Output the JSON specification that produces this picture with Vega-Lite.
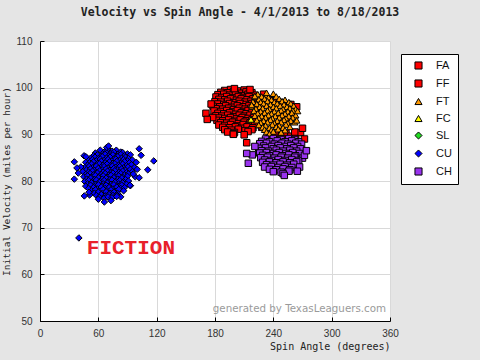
{
  "$schema": "https://vega.github.io/schema/vega-lite/v6.json",
  "width": 350,
  "height": 280,
  "autosize": {"type": "none"},
  "padding": {"left": 40, "top": 41, "right": 90, "bottom": 39},
  "background": "#e5e5e5",
  "title": {"text": "Velocity vs Spin Angle - 4/1/2013 to 8/18/2013", "font": "DejaVu Sans Mono", "fontSize": 11.5, "fontWeight": "bold", "color": "#222", "dx": 25, "offset": 18},
  "config": {
    "view": {"fill": "white", "stroke": null},
    "legend": {"orient": "none", "legendX": 361, "legendY": 13, "fillColor": "white", "strokeColor": "black", "padding": 6, "labelFont": "Liberation Sans", "labelFontSize": 11, "labelColor": "#111", "symbolSize": 50, "symbolStrokeColor": "black", "symbolStrokeWidth": 1, "rowPadding": 5, "labelOffset": 12, "symbolOffset": 6, "title": null}
  },
  "datasets": {"pitches": [
    {"p":"FA","x":236,"y":89.8},{"p":"FA","x":242,"y":90.0},{"p":"FA","x":248,"y":89.5},{"p":"FA","x":253,"y":90.2},{"p":"FA","x":258,"y":89.6},{"p":"FA","x":263,"y":89.8},{"p":"FA","x":268,"y":90.4},{"p":"FA","x":270,"y":91.3},{"p":"FA","x":245,"y":88.6},{"p":"FA","x":255,"y":88.4},{"p":"FA","x":261,"y":88.8},{"p":"FA","x":266,"y":88.2},{"p":"FA","x":239,"y":88.8},{"p":"FA","x":272,"y":89.0},{"p":"FA","x":250,"y":89.0},
    {"p":"FF","x":190,"y":99.4},{"p":"FF","x":196,"y":99.6},{"p":"FF","x":203,"y":99.3},{"p":"FF","x":210,"y":99.5},
    {"p":"FF","x":186,"y":99.0},{"p":"FF","x":193,"y":98.9},{"p":"FF","x":199,"y":99.1},{"p":"FF","x":205,"y":98.8},{"p":"FF","x":212,"y":99.1},{"p":"FF","x":218,"y":98.9},
    {"p":"FF","x":183,"y":98.5},{"p":"FF","x":189,"y":98.6},{"p":"FF","x":195,"y":98.4},{"p":"FF","x":201,"y":98.6},{"p":"FF","x":207,"y":98.3},{"p":"FF","x":214,"y":98.6},{"p":"FF","x":220,"y":98.4},
    {"p":"FF","x":181,"y":98.0},{"p":"FF","x":187,"y":97.9},{"p":"FF","x":192,"y":98.1},{"p":"FF","x":198,"y":97.8},{"p":"FF","x":204,"y":98.1},{"p":"FF","x":209,"y":97.9},{"p":"FF","x":215,"y":98.1},{"p":"FF","x":222,"y":97.9},
    {"p":"FF","x":184,"y":97.5},{"p":"FF","x":190,"y":97.4},{"p":"FF","x":196,"y":97.6},{"p":"FF","x":202,"y":97.3},{"p":"FF","x":207,"y":97.6},{"p":"FF","x":213,"y":97.4},{"p":"FF","x":219,"y":97.6},{"p":"FF","x":225,"y":97.4},
    {"p":"FF","x":180,"y":97.0},{"p":"FF","x":186,"y":96.9},{"p":"FF","x":193,"y":97.1},{"p":"FF","x":199,"y":96.8},{"p":"FF","x":205,"y":97.1},{"p":"FF","x":211,"y":96.9},{"p":"FF","x":217,"y":97.1},{"p":"FF","x":223,"y":96.9},
    {"p":"FF","x":183,"y":96.5},{"p":"FF","x":189,"y":96.4},{"p":"FF","x":195,"y":96.6},{"p":"FF","x":200,"y":96.3},{"p":"FF","x":206,"y":96.6},{"p":"FF","x":212,"y":96.4},{"p":"FF","x":218,"y":96.6},{"p":"FF","x":226,"y":96.4},
    {"p":"FF","x":178,"y":96.0},{"p":"FF","x":185,"y":95.9},{"p":"FF","x":191,"y":96.1},{"p":"FF","x":197,"y":95.8},{"p":"FF","x":203,"y":96.1},{"p":"FF","x":209,"y":95.9},{"p":"FF","x":215,"y":96.1},{"p":"FF","x":221,"y":95.9},
    {"p":"FF","x":181,"y":95.5},{"p":"FF","x":188,"y":95.4},{"p":"FF","x":194,"y":95.6},{"p":"FF","x":199,"y":95.3},{"p":"FF","x":205,"y":95.6},{"p":"FF","x":211,"y":95.4},{"p":"FF","x":217,"y":95.6},{"p":"FF","x":224,"y":95.4},
    {"p":"FF","x":179,"y":95.0},{"p":"FF","x":186,"y":94.9},{"p":"FF","x":192,"y":95.1},{"p":"FF","x":198,"y":94.8},{"p":"FF","x":203,"y":95.1},{"p":"FF","x":209,"y":94.9},{"p":"FF","x":214,"y":95.1},{"p":"FF","x":220,"y":94.9},
    {"p":"FF","x":183,"y":94.5},{"p":"FF","x":189,"y":94.4},{"p":"FF","x":195,"y":94.6},{"p":"FF","x":201,"y":94.3},{"p":"FF","x":207,"y":94.6},{"p":"FF","x":212,"y":94.4},{"p":"FF","x":218,"y":94.6},{"p":"FF","x":228,"y":94.4},
    {"p":"FF","x":181,"y":94.0},{"p":"FF","x":187,"y":93.9},{"p":"FF","x":193,"y":94.1},{"p":"FF","x":199,"y":93.8},{"p":"FF","x":205,"y":94.1},{"p":"FF","x":210,"y":93.9},{"p":"FF","x":216,"y":94.1},{"p":"FF","x":222,"y":93.9},
    {"p":"FF","x":184,"y":93.5},{"p":"FF","x":190,"y":93.4},{"p":"FF","x":196,"y":93.6},{"p":"FF","x":202,"y":93.3},{"p":"FF","x":208,"y":93.6},{"p":"FF","x":214,"y":93.4},{"p":"FF","x":220,"y":93.6},
    {"p":"FF","x":182,"y":93.0},{"p":"FF","x":188,"y":92.9},{"p":"FF","x":194,"y":93.1},{"p":"FF","x":200,"y":92.8},{"p":"FF","x":206,"y":93.1},{"p":"FF","x":212,"y":92.9},{"p":"FF","x":218,"y":93.1},{"p":"FF","x":226,"y":92.9},
    {"p":"FF","x":186,"y":92.5},{"p":"FF","x":192,"y":92.4},{"p":"FF","x":198,"y":92.6},{"p":"FF","x":204,"y":92.3},{"p":"FF","x":210,"y":92.6},{"p":"FF","x":216,"y":92.4},{"p":"FF","x":222,"y":92.6},
    {"p":"FF","x":184,"y":92.0},{"p":"FF","x":190,"y":91.9},{"p":"FF","x":196,"y":92.1},{"p":"FF","x":203,"y":91.8},{"p":"FF","x":209,"y":92.1},{"p":"FF","x":215,"y":91.9},{"p":"FF","x":221,"y":92.1},
    {"p":"FF","x":188,"y":91.5},{"p":"FF","x":195,"y":91.4},{"p":"FF","x":201,"y":91.6},{"p":"FF","x":207,"y":91.3},{"p":"FF","x":213,"y":91.6},{"p":"FF","x":219,"y":91.4},
    {"p":"FF","x":190,"y":91.0},{"p":"FF","x":197,"y":90.9},{"p":"FF","x":204,"y":91.1},{"p":"FF","x":211,"y":90.8},{"p":"FF","x":218,"y":91.0},
    {"p":"FF","x":193,"y":90.5},{"p":"FF","x":200,"y":90.4},{"p":"FF","x":214,"y":90.6},{"p":"FF","x":199,"y":90.1},{"p":"FF","x":210,"y":89.9},
    {"p":"FF","x":170.7,"y":94.5},{"p":"FF","x":177.6,"y":93.6},{"p":"FF","x":172,"y":93.2},{"p":"FF","x":198.9,"y":90.0},{"p":"FF","x":212.6,"y":88.2},{"p":"FF","x":176,"y":96.5},{"p":"FF","x":200,"y":99.8},{"p":"FF","x":216,"y":99.6},
    {"p":"FF","x":230,"y":98.6},{"p":"FF","x":235,"y":97.5},{"p":"FF","x":242,"y":97.2},{"p":"FF","x":250,"y":96.8},{"p":"FF","x":258,"y":96.4},{"p":"FF","x":264,"y":95.9},{"p":"FF","x":238,"y":95},{"p":"FF","x":246,"y":94},{"p":"FF","x":255,"y":93.5},{"p":"FF","x":232,"y":93},{"p":"FF","x":228,"y":91.5},{"p":"FF","x":244,"y":91.8},{"p":"FF","x":262,"y":90.5},
    {"p":"FT","x":224,"y":98.6},{"p":"FT","x":232,"y":98.4},{"p":"FT","x":240,"y":98.7},
    {"p":"FT","x":221,"y":98.0},{"p":"FT","x":228,"y":98.1},{"p":"FT","x":235,"y":97.9},{"p":"FT","x":243,"y":98.1},
    {"p":"FT","x":225,"y":97.5},{"p":"FT","x":231,"y":97.6},{"p":"FT","x":238,"y":97.4},{"p":"FT","x":246,"y":97.6},{"p":"FT","x":252,"y":97.4},
    {"p":"FT","x":219,"y":97.0},{"p":"FT","x":227,"y":96.9},{"p":"FT","x":234,"y":97.1},{"p":"FT","x":241,"y":96.9},{"p":"FT","x":249,"y":97.1},{"p":"FT","x":256,"y":96.9},
    {"p":"FT","x":223,"y":96.5},{"p":"FT","x":230,"y":96.6},{"p":"FT","x":237,"y":96.4},{"p":"FT","x":244,"y":96.6},{"p":"FT","x":251,"y":96.4},{"p":"FT","x":258,"y":96.6},
    {"p":"FT","x":218,"y":96.0},{"p":"FT","x":226,"y":95.9},{"p":"FT","x":233,"y":96.1},{"p":"FT","x":240,"y":95.9},{"p":"FT","x":247,"y":96.1},{"p":"FT","x":254,"y":95.9},{"p":"FT","x":261,"y":96.1},
    {"p":"FT","x":222,"y":95.5},{"p":"FT","x":229,"y":95.6},{"p":"FT","x":236,"y":95.4},{"p":"FT","x":243,"y":95.6},{"p":"FT","x":250,"y":95.4},{"p":"FT","x":257,"y":95.6},{"p":"FT","x":263,"y":95.4},
    {"p":"FT","x":220,"y":95.0},{"p":"FT","x":227,"y":94.9},{"p":"FT","x":234,"y":95.1},{"p":"FT","x":241,"y":94.9},{"p":"FT","x":248,"y":95.1},{"p":"FT","x":255,"y":94.9},{"p":"FT","x":260,"y":95.1},
    {"p":"FT","x":224,"y":94.5},{"p":"FT","x":231,"y":94.6},{"p":"FT","x":238,"y":94.4},{"p":"FT","x":245,"y":94.6},{"p":"FT","x":252,"y":94.4},{"p":"FT","x":259,"y":94.6},
    {"p":"FT","x":221,"y":94.0},{"p":"FT","x":228,"y":93.9},{"p":"FT","x":235,"y":94.1},{"p":"FT","x":242,"y":93.9},{"p":"FT","x":249,"y":94.1},{"p":"FT","x":256,"y":93.9},{"p":"FT","x":263,"y":94.1},
    {"p":"FT","x":225,"y":93.5},{"p":"FT","x":232,"y":93.6},{"p":"FT","x":239,"y":93.4},{"p":"FT","x":246,"y":93.6},{"p":"FT","x":253,"y":93.4},{"p":"FT","x":260,"y":93.6},
    {"p":"FT","x":223,"y":93.0},{"p":"FT","x":230,"y":92.9},{"p":"FT","x":237,"y":93.1},{"p":"FT","x":244,"y":92.9},{"p":"FT","x":251,"y":93.1},{"p":"FT","x":258,"y":92.9},
    {"p":"FT","x":227,"y":92.5},{"p":"FT","x":234,"y":92.6},{"p":"FT","x":241,"y":92.4},{"p":"FT","x":248,"y":92.6},{"p":"FT","x":255,"y":92.4},{"p":"FT","x":262,"y":92.6},
    {"p":"FT","x":225,"y":92.0},{"p":"FT","x":232,"y":91.9},{"p":"FT","x":239,"y":92.1},{"p":"FT","x":246,"y":91.9},{"p":"FT","x":253,"y":92.1},
    {"p":"FT","x":229,"y":91.5},{"p":"FT","x":236,"y":91.4},{"p":"FT","x":243,"y":91.6},{"p":"FT","x":250,"y":91.4},{"p":"FT","x":257,"y":91.6},
    {"p":"FT","x":231,"y":91.0},{"p":"FT","x":238,"y":90.9},{"p":"FT","x":245,"y":91.1},{"p":"FT","x":252,"y":90.9},
    {"p":"FT","x":233,"y":90.5},{"p":"FT","x":240,"y":90.6},{"p":"FT","x":248,"y":90.4},{"p":"FT","x":236,"y":90.1},
    {"p":"FT","x":217.7,"y":96.3},{"p":"FT","x":221,"y":98.2},{"p":"FT","x":233,"y":98.9},{"p":"FT","x":264,"y":93.0},{"p":"FT","x":265,"y":95.0},
    {"p":"FC","x":217,"y":93.2},
    {"p":"CU","x":62,"y":86.6},{"p":"CU","x":66.5,"y":86.3},{"p":"CU","x":70,"y":86.8},{"p":"CU","x":74,"y":86.4},{"p":"CU","x":78.5,"y":86.6},{"p":"CU","x":83,"y":86.2},
    {"p":"CU","x":57,"y":86.0},{"p":"CU","x":64.5,"y":85.8},{"p":"CU","x":68,"y":86.1},{"p":"CU","x":72.5,"y":85.9},{"p":"CU","x":76,"y":86.2},{"p":"CU","x":80,"y":85.7},{"p":"CU","x":85,"y":86.1},{"p":"CU","x":90,"y":85.8},
    {"p":"CU","x":55,"y":85.4},{"p":"CU","x":59,"y":85.6},{"p":"CU","x":63,"y":85.3},{"p":"CU","x":67,"y":85.7},{"p":"CU","x":71,"y":85.4},{"p":"CU","x":75,"y":85.6},{"p":"CU","x":79,"y":85.3},{"p":"CU","x":83,"y":85.7},{"p":"CU","x":87,"y":85.4},{"p":"CU","x":93,"y":85.6},
    {"p":"CU","x":52,"y":84.9},{"p":"CU","x":56.5,"y":85.1},{"p":"CU","x":60,"y":84.8},{"p":"CU","x":64,"y":85.2},{"p":"CU","x":68.5,"y":84.9},{"p":"CU","x":72,"y":85.1},{"p":"CU","x":76.5,"y":84.8},{"p":"CU","x":80,"y":85.2},{"p":"CU","x":84,"y":84.9},{"p":"CU","x":88,"y":85.1},{"p":"CU","x":91,"y":84.8},
    {"p":"CU","x":50,"y":84.4},{"p":"CU","x":54,"y":84.6},{"p":"CU","x":58,"y":84.3},{"p":"CU","x":62,"y":84.7},{"p":"CU","x":66,"y":84.4},{"p":"CU","x":70,"y":84.6},{"p":"CU","x":74,"y":84.3},{"p":"CU","x":78,"y":84.7},{"p":"CU","x":82,"y":84.4},{"p":"CU","x":86,"y":84.6},{"p":"CU","x":90,"y":84.3},{"p":"CU","x":95,"y":84.5},
    {"p":"CU","x":47,"y":84.0},{"p":"CU","x":51,"y":83.9},{"p":"CU","x":55,"y":84.1},{"p":"CU","x":59.5,"y":83.8},{"p":"CU","x":63,"y":84.2},{"p":"CU","x":67,"y":83.9},{"p":"CU","x":71.5,"y":84.1},{"p":"CU","x":75,"y":83.8},{"p":"CU","x":79,"y":84.2},{"p":"CU","x":83.5,"y":83.9},{"p":"CU","x":87,"y":84.1},{"p":"CU","x":92,"y":83.9},
    {"p":"CU","x":49,"y":83.4},{"p":"CU","x":53,"y":83.6},{"p":"CU","x":57,"y":83.3},{"p":"CU","x":61,"y":83.7},{"p":"CU","x":65,"y":83.4},{"p":"CU","x":69,"y":83.6},{"p":"CU","x":73,"y":83.3},{"p":"CU","x":77,"y":83.7},{"p":"CU","x":81,"y":83.4},{"p":"CU","x":85,"y":83.6},{"p":"CU","x":89,"y":83.3},{"p":"CU","x":94,"y":83.5},
    {"p":"CU","x":46,"y":82.9},{"p":"CU","x":50.5,"y":83.1},{"p":"CU","x":54,"y":82.8},{"p":"CU","x":58,"y":83.2},{"p":"CU","x":62.5,"y":82.9},{"p":"CU","x":66,"y":83.1},{"p":"CU","x":70,"y":82.8},{"p":"CU","x":74.5,"y":83.2},{"p":"CU","x":78,"y":82.9},{"p":"CU","x":82,"y":83.1},{"p":"CU","x":86,"y":82.8},{"p":"CU","x":90.5,"y":83.0},{"p":"CU","x":97,"y":82.9},
    {"p":"CU","x":48,"y":82.4},{"p":"CU","x":52,"y":82.6},{"p":"CU","x":56,"y":82.3},{"p":"CU","x":60,"y":82.7},{"p":"CU","x":64,"y":82.4},{"p":"CU","x":68,"y":82.6},{"p":"CU","x":72,"y":82.3},{"p":"CU","x":76,"y":82.7},{"p":"CU","x":80,"y":82.4},{"p":"CU","x":84,"y":82.6},{"p":"CU","x":88,"y":82.3},{"p":"CU","x":93,"y":82.5},
    {"p":"CU","x":44,"y":82.0},{"p":"CU","x":50,"y":81.9},{"p":"CU","x":54,"y":82.1},{"p":"CU","x":58,"y":81.8},{"p":"CU","x":61.5,"y":82.2},{"p":"CU","x":65,"y":81.9},{"p":"CU","x":69.5,"y":82.1},{"p":"CU","x":73,"y":81.8},{"p":"CU","x":77,"y":82.2},{"p":"CU","x":81.5,"y":81.9},{"p":"CU","x":85,"y":82.1},{"p":"CU","x":89,"y":81.8},{"p":"CU","x":95,"y":82.0},
    {"p":"CU","x":47,"y":81.4},{"p":"CU","x":51.5,"y":81.6},{"p":"CU","x":55,"y":81.3},{"p":"CU","x":59,"y":81.7},{"p":"CU","x":63,"y":81.4},{"p":"CU","x":67,"y":81.6},{"p":"CU","x":71,"y":81.3},{"p":"CU","x":75,"y":81.7},{"p":"CU","x":79,"y":81.4},{"p":"CU","x":83,"y":81.6},{"p":"CU","x":87,"y":81.3},{"p":"CU","x":91,"y":81.5},
    {"p":"CU","x":45,"y":80.9},{"p":"CU","x":49,"y":81.1},{"p":"CU","x":53,"y":80.8},{"p":"CU","x":57,"y":81.2},{"p":"CU","x":61,"y":80.9},{"p":"CU","x":65,"y":81.1},{"p":"CU","x":69,"y":80.8},{"p":"CU","x":73,"y":81.2},{"p":"CU","x":77,"y":80.9},{"p":"CU","x":81,"y":81.1},{"p":"CU","x":85,"y":80.8},{"p":"CU","x":90,"y":81.0},{"p":"CU","x":98,"y":80.9},
    {"p":"CU","x":48,"y":80.4},{"p":"CU","x":52,"y":80.6},{"p":"CU","x":56,"y":80.3},{"p":"CU","x":60,"y":80.7},{"p":"CU","x":64,"y":80.4},{"p":"CU","x":68,"y":80.6},{"p":"CU","x":72,"y":80.3},{"p":"CU","x":76,"y":80.7},{"p":"CU","x":80,"y":80.4},{"p":"CU","x":84,"y":80.6},{"p":"CU","x":88,"y":80.3},
    {"p":"CU","x":46,"y":79.9},{"p":"CU","x":50,"y":80.1},{"p":"CU","x":54,"y":79.8},{"p":"CU","x":58,"y":80.2},{"p":"CU","x":62,"y":79.9},{"p":"CU","x":66,"y":80.1},{"p":"CU","x":70,"y":79.8},{"p":"CU","x":74,"y":80.2},{"p":"CU","x":78,"y":79.9},{"p":"CU","x":82,"y":80.1},{"p":"CU","x":86,"y":79.8},{"p":"CU","x":91,"y":80.0},
    {"p":"CU","x":49,"y":79.4},{"p":"CU","x":53,"y":79.6},{"p":"CU","x":57,"y":79.3},{"p":"CU","x":61,"y":79.7},{"p":"CU","x":65,"y":79.4},{"p":"CU","x":69,"y":79.6},{"p":"CU","x":73,"y":79.3},{"p":"CU","x":77,"y":79.7},{"p":"CU","x":81,"y":79.4},{"p":"CU","x":85,"y":79.6},{"p":"CU","x":89,"y":79.3},
    {"p":"CU","x":47,"y":78.9},{"p":"CU","x":52,"y":79.1},{"p":"CU","x":56,"y":78.8},{"p":"CU","x":60,"y":79.2},{"p":"CU","x":64,"y":78.9},{"p":"CU","x":68,"y":79.1},{"p":"CU","x":72,"y":78.8},{"p":"CU","x":76,"y":79.2},{"p":"CU","x":80,"y":78.9},{"p":"CU","x":84,"y":79.1},{"p":"CU","x":93,"y":79.0},
    {"p":"CU","x":50,"y":78.4},{"p":"CU","x":55,"y":78.6},{"p":"CU","x":59,"y":78.3},{"p":"CU","x":63,"y":78.7},{"p":"CU","x":67,"y":78.4},{"p":"CU","x":71,"y":78.6},{"p":"CU","x":75,"y":78.3},{"p":"CU","x":79,"y":78.7},{"p":"CU","x":83,"y":78.4},{"p":"CU","x":87,"y":78.6},
    {"p":"CU","x":53,"y":77.9},{"p":"CU","x":57,"y":78.1},{"p":"CU","x":61,"y":77.8},{"p":"CU","x":65,"y":78.2},{"p":"CU","x":69,"y":77.9},{"p":"CU","x":73,"y":78.1},{"p":"CU","x":77,"y":77.8},{"p":"CU","x":81,"y":78.2},{"p":"CU","x":86,"y":77.9},
    {"p":"CU","x":56,"y":77.4},{"p":"CU","x":60,"y":77.6},{"p":"CU","x":64,"y":77.3},{"p":"CU","x":68,"y":77.7},{"p":"CU","x":72,"y":77.4},{"p":"CU","x":76,"y":77.6},{"p":"CU","x":80,"y":77.3},
    {"p":"CU","x":51,"y":77.0},{"p":"CU","x":58,"y":76.9},{"p":"CU","x":63,"y":77.1},{"p":"CU","x":67,"y":76.8},{"p":"CU","x":71,"y":77.1},{"p":"CU","x":75,"y":76.9},{"p":"CU","x":79,"y":77.0},
    {"p":"CU","x":61,"y":76.5},{"p":"CU","x":66,"y":76.3},{"p":"CU","x":70,"y":76.6},{"p":"CU","x":74,"y":76.4},{"p":"CU","x":83,"y":76.6},
    {"p":"CU","x":35.3,"y":84.1},{"p":"CU","x":45.3,"y":85.4},{"p":"CU","x":47.3,"y":85.2},{"p":"CU","x":68.6,"y":87.2},{"p":"CU","x":102,"y":86.9},{"p":"CU","x":117,"y":84.3},{"p":"CU","x":110.8,"y":82.4},{"p":"CU","x":102,"y":80.7},{"p":"CU","x":92.6,"y":79.1},{"p":"CU","x":45.6,"y":76.8},{"p":"CU","x":60,"y":76.1},{"p":"CU","x":66.2,"y":75.5},{"p":"CU","x":73,"y":75.8},{"p":"CU","x":78.9,"y":76.7},{"p":"CU","x":35.3,"y":80.4},{"p":"CU","x":39.4,"y":81.7},{"p":"CU","x":50.4,"y":77.6},{"p":"CU","x":40,"y":67.8},{"p":"CU","x":104,"y":85.5},{"p":"CU","x":99,"y":84},{"p":"CU","x":100,"y":82.5},{"p":"CU","x":96,"y":81.5},{"p":"CU","x":42,"y":83},{"p":"CU","x":38,"y":82.8},{"p":"CU","x":70.5,"y":87.5},
    {"p":"CH","x":232,"y":89.0},{"p":"CH","x":240,"y":89.1},{"p":"CH","x":248,"y":88.9},{"p":"CH","x":256,"y":89.1},{"p":"CH","x":262,"y":88.9},
    {"p":"CH","x":228,"y":88.5},{"p":"CH","x":236,"y":88.4},{"p":"CH","x":244,"y":88.6},{"p":"CH","x":252,"y":88.4},{"p":"CH","x":259,"y":88.6},{"p":"CH","x":266,"y":88.4},
    {"p":"CH","x":226,"y":88.0},{"p":"CH","x":233,"y":88.1},{"p":"CH","x":241,"y":87.9},{"p":"CH","x":249,"y":88.1},{"p":"CH","x":255,"y":87.9},{"p":"CH","x":263,"y":88.1},{"p":"CH","x":269,"y":87.9},
    {"p":"CH","x":230,"y":87.5},{"p":"CH","x":238,"y":87.4},{"p":"CH","x":245,"y":87.6},{"p":"CH","x":252,"y":87.4},{"p":"CH","x":258,"y":87.6},{"p":"CH","x":265,"y":87.4},
    {"p":"CH","x":225,"y":87.0},{"p":"CH","x":232,"y":87.1},{"p":"CH","x":240,"y":86.9},{"p":"CH","x":247,"y":87.1},{"p":"CH","x":254,"y":86.9},{"p":"CH","x":261,"y":87.1},{"p":"CH","x":268,"y":86.9},
    {"p":"CH","x":228,"y":86.5},{"p":"CH","x":235,"y":86.4},{"p":"CH","x":243,"y":86.6},{"p":"CH","x":250,"y":86.4},{"p":"CH","x":257,"y":86.6},{"p":"CH","x":264,"y":86.4},
    {"p":"CH","x":226,"y":86.0},{"p":"CH","x":233,"y":86.1},{"p":"CH","x":240,"y":85.9},{"p":"CH","x":246,"y":86.1},{"p":"CH","x":253,"y":85.9},{"p":"CH","x":260,"y":86.1},{"p":"CH","x":267,"y":85.9},
    {"p":"CH","x":229,"y":85.5},{"p":"CH","x":236,"y":85.4},{"p":"CH","x":243,"y":85.6},{"p":"CH","x":249,"y":85.4},{"p":"CH","x":256,"y":85.6},{"p":"CH","x":263,"y":85.4},
    {"p":"CH","x":227,"y":85.0},{"p":"CH","x":234,"y":85.1},{"p":"CH","x":241,"y":84.9},{"p":"CH","x":248,"y":85.1},{"p":"CH","x":255,"y":84.9},{"p":"CH","x":262,"y":85.1},{"p":"CH","x":270,"y":84.9},
    {"p":"CH","x":231,"y":84.5},{"p":"CH","x":238,"y":84.4},{"p":"CH","x":245,"y":84.6},{"p":"CH","x":252,"y":84.4},{"p":"CH","x":259,"y":84.6},{"p":"CH","x":266,"y":84.4},
    {"p":"CH","x":229,"y":84.0},{"p":"CH","x":236,"y":84.1},{"p":"CH","x":243,"y":83.9},{"p":"CH","x":250,"y":84.1},{"p":"CH","x":257,"y":83.9},{"p":"CH","x":264,"y":84.1},
    {"p":"CH","x":233,"y":83.5},{"p":"CH","x":240,"y":83.4},{"p":"CH","x":247,"y":83.6},{"p":"CH","x":254,"y":83.4},{"p":"CH","x":261,"y":83.6},
    {"p":"CH","x":231,"y":83.0},{"p":"CH","x":238,"y":83.1},{"p":"CH","x":245,"y":82.9},{"p":"CH","x":252,"y":83.1},{"p":"CH","x":259,"y":82.9},{"p":"CH","x":267,"y":83.0},
    {"p":"CH","x":236,"y":82.5},{"p":"CH","x":243,"y":82.4},{"p":"CH","x":250,"y":82.6},{"p":"CH","x":257,"y":82.4},
    {"p":"CH","x":240,"y":82.0},{"p":"CH","x":248,"y":81.9},{"p":"CH","x":256,"y":82.1},{"p":"CH","x":264.7,"y":82.1},{"p":"CH","x":250,"y":81.6},
    {"p":"CH","x":221,"y":87.4},{"p":"CH","x":218.4,"y":85.6},{"p":"CH","x":212.6,"y":85.9},{"p":"CH","x":214.3,"y":83.8},{"p":"CH","x":272,"y":85.5},{"p":"CH","x":274,"y":86.5},{"p":"CH","x":251.3,"y":81.2}
  ],
  "notes": [{"label": "FICTION", "x": 93.5, "y": 65.6}],
  "credit": [{"label": "generated by TexasLeaguers.com", "x": 356, "y": 52.6}]},
  "layer": [
    {
      "data": {"name": "pitches"},
      "mark": {"type": "point", "filled": true, "opacity": 1, "stroke": "black", "strokeWidth": 1, "size": 42},
      "encoding": {
        "x": {"field": "x", "type": "quantitative", "scale": {"domain": [0, 360], "nice": false, "zero": false},
          "axis": {"values": [0,30,60,90,120,150,180,210,240,270,300,330,360], "labelExpr": "datum.value % 60 == 0 ? datum.label : ''", "labelFlush": false, "labelOverlap": false,
            "gridOpacity": {"condition": {"test": "datum.value % 60 == 0", "value": 1}, "value": 0}, "gridColor": "#d9d9d9",
            "tickSize": -4, "tickColor": "black", "domainColor": "black", "labelFont": "Liberation Sans", "labelFontSize": 10, "labelColor": "#333", "labelPadding": 11,
            "title": "Spin Angle (degrees)", "titleAnchor": "end", "titleFont": "DejaVu Sans Mono", "titleFontSize": 10, "titleFontWeight": "normal", "titleColor": "#222", "titlePadding": 3}},
        "y": {"field": "y", "type": "quantitative", "scale": {"domain": [50, 110], "nice": false, "zero": false},
          "axis": {"values": [50,55,60,65,70,75,80,85,90,95,100,105,110], "labelExpr": "datum.value % 10 == 0 ? datum.label : ''", "labelFlush": false, "labelOverlap": false,
            "gridOpacity": {"condition": {"test": "datum.value % 10 == 0", "value": 1}, "value": 0}, "gridColor": "#d9d9d9",
            "tickSize": -4, "tickColor": "black", "domainColor": "black", "labelFont": "Liberation Sans", "labelFontSize": 10, "labelColor": "#333", "labelPadding": 12,
            "title": "Initial Velocity (miles per hour)", "titleFont": "DejaVu Sans Mono", "titleFontSize": 9.5, "titleFontWeight": "normal", "titleColor": "#222", "titlePadding": 4}},
        "shape": {"field": "p", "type": "nominal", "scale": {"domain": ["FA","FF","FT","FC","SL","CU","CH"], "range": ["square","square","triangle-up","triangle-up","diamond","diamond","square"]}},
        "color": {"field": "p", "type": "nominal", "scale": {"domain": ["FA","FF","FT","FC","SL","CU","CH"], "range": ["#ff0000","#ff0000","#ff9900","#ffff00","#22dd22","#0000ff","#9933ee"]}}
      }
    },
    {
      "data": {"name": "notes"},
      "mark": {"type": "text", "font": "Liberation Mono", "fontSize": 21, "fontWeight": "bold", "fill": "#e8202a", "align": "center", "baseline": "middle"},
      "encoding": {"x": {"field": "x", "type": "quantitative"}, "y": {"field": "y", "type": "quantitative"}, "text": {"field": "label"}}
    },
    {
      "data": {"name": "credit"},
      "mark": {"type": "text", "font": "DejaVu Sans", "fontSize": 10.3, "fill": "#9a9a9a", "align": "right", "baseline": "middle"},
      "encoding": {"x": {"field": "x", "type": "quantitative"}, "y": {"field": "y", "type": "quantitative"}, "text": {"field": "label"}}
    }
  ]
}
